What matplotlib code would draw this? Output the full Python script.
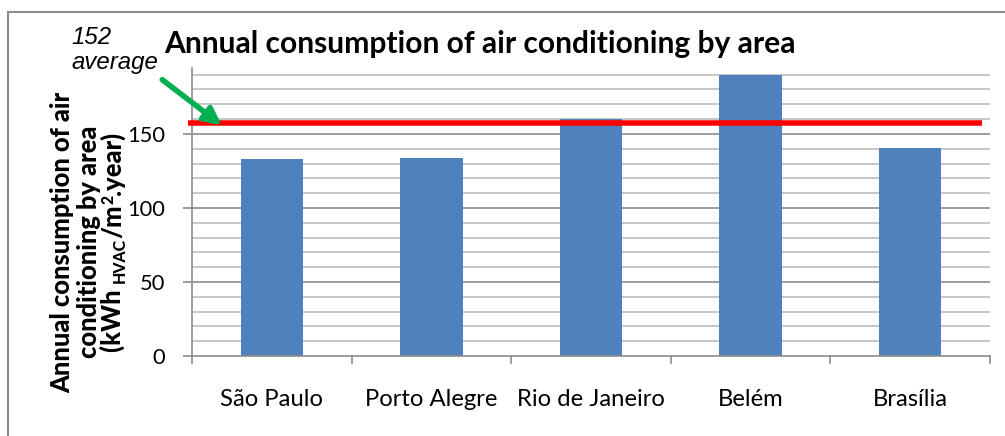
import matplotlib
matplotlib.use("Agg")
import matplotlib.pyplot as plt
from matplotlib.patches import Rectangle, FancyArrowPatch
from matplotlib.transforms import IdentityTransform
import numpy as np

# data
cities = ["São Paulo", "Porto Alegre", "Rio de Janeiro", "Belém", "Brasília"]
consumption = [133, 134, 160, 190, 140.5]
average_line = 157.3
average_label = "152\naverage"

W, H = 1005, 436
fig = plt.figure(figsize=(W / 100, H / 100), dpi=100)
plt.rcParams["font.family"] = ["Lato", "DejaVu Sans"]
renderer = fig.canvas.get_renderer()
px = IdentityTransform()  # pixel coords, origin bottom-left


def fit(t, target, dim="w"):
    # scale a text's font size until its pixel extent matches the target
    for _ in range(3):
        bb = t.get_window_extent(renderer)
        cur = bb.width if dim == "w" else bb.height
        t.set_fontsize(t.get_fontsize() * target / cur)
    return t.get_fontsize()


def size_for(s, target, **kw):
    t = fig.text(0, 0, s, fontsize=12, **kw)
    fs = fit(t, target)
    t.remove()
    return fs


def text_len(s, fs, **kw):
    t = fig.text(0, 0, s, fontsize=fs, **kw)
    w = t.get_window_extent(renderer).width
    t.remove()
    return w


# plot area in pixels: left 192, right 990, bottom 356, top 68
ax = fig.add_axes([192 / W, 1 - 356 / H, (990 - 192) / W, (356 - 68) / H])

x = np.arange(len(cities))
ax.set_xlim(-0.5, len(cities) - 0.5)
ax.set_ylim(0, 194.5)

# gridlines every 10, darker at the labelled 50s
for v in range(10, 200, 10):
    c = "#8c8c8c" if v % 50 == 0 else "#bdbdbd"
    ax.axhline(v, color=c, lw=1.2, zorder=0)

ax.bar(x, consumption, width=0.39, color="#4f81bd", zorder=2)

ax.plot([-0.525, 4.45], [average_line, average_line], color="#ff0000", lw=4,
        solid_capstyle="butt", zorder=3, clip_on=False)

ytick_fs = size_for("150", 38)
xtick_fs = size_for("Brasília", 75)

ax.set_yticks([0, 50, 100, 150])
ax.set_yticklabels(["0", "50", "100", "150"], fontsize=ytick_fs)
ax.tick_params(axis="y", length=6.5, width=1.2, color="#8c8c8c", pad=13)
ax.set_xticks(x)
ax.set_xticklabels(cities, fontsize=xtick_fs)
ax.tick_params(axis="x", length=0, pad=24)
# category separators below the axis
for b in np.arange(-0.5, len(cities), 1.0):
    ax.plot([b, b], [0, -5], color="#8c8c8c", lw=1.2, clip_on=False)

for s in ["top", "right"]:
    ax.spines[s].set_visible(False)
ax.spines["left"].set_color("#8c8c8c")
ax.spines["bottom"].set_color("#8c8c8c")
ax.spines["left"].set_linewidth(1.2)
ax.spines["bottom"].set_linewidth(1.2)

title = fig.text(480 / W, 1 - 44 / H,
                 "Annual consumption of air conditioning by area",
                 ha="center", va="center", fontsize=19.5, fontweight="bold")
fit(title, 630)

# rotated y label, three lines; the units line is built from pieces so the
# subscript / superscript stay bold
bold = dict(fontweight=900)
fs = size_for("Annual consumption of air", 301, **bold)
yc = H - 242
rot = dict(rotation=90, rotation_mode="anchor", va="baseline",
           transform=px, **bold)
fig.text(70, yc, "Annual consumption of air", ha="center", fontsize=fs, **rot)
fig.text(97, yc, "conditioning by area", ha="center", fontsize=fs, **rot)

small = fs * 0.62
pieces = [("(kWh ", fs, 0), ("HVAC", small, 4), ("/m", fs, 0),
          ("2", small, -8), (".year)", fs, 0)]
lens = [text_len(s, f, **bold) for s, f, _ in pieces]
y0 = yc - sum(lens) / 2
for (s, f, shift), L in zip(pieces, lens):
    fig.text(121 + shift, y0, s, ha="left", fontsize=f, **rot)
    y0 += L

avg = fig.text(71 / W, 1 - 50 / H, average_label, ha="left", va="center",
               fontsize=15, style="italic", family="Liberation Sans",
               linespacing=1.15)
fit(avg, 87)

arrow = FancyArrowPatch((160 / W, 1 - 78 / H), (224 / W, 1 - 127 / H),
                        transform=fig.transFigure, arrowstyle="-|>",
                        mutation_scale=25, color="#00b050", lw=4)
fig.patches.append(arrow)

# outer chart-area border (runs off the right and bottom edges)
fig.patches.append(Rectangle((8 / W, -0.05), 1.1, 1 - 12 / H + 0.05,
                             transform=fig.transFigure, fill=False,
                             edgecolor="#8c8c8c", lw=1.5))

fig.savefig("out.png", dpi=100)
